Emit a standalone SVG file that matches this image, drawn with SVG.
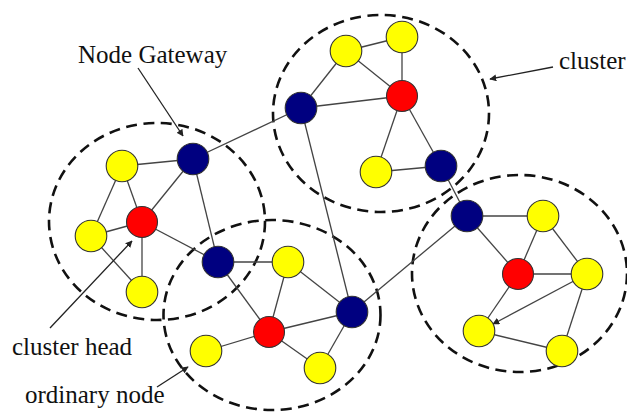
<svg xmlns="http://www.w3.org/2000/svg" width="627" height="417" viewBox="0 0 627 417">
  <style>
    .cluster { fill: none; stroke: #111; stroke-width: 2.6; stroke-dasharray: 11 6.5; }
    .edge { stroke: #444; stroke-width: 1.3; fill: none; }
    .pointer { stroke: #222; stroke-width: 1.3; fill: none; }
    .node { stroke: #333; stroke-width: 1.1; }
    .head { fill: #ff0000; }
    .gate { fill: #000080; }
    .ord { fill: #ffff00; }
    text { font-size: 25px; fill: #111; }
  </style>
  <defs>
    <marker id="arrow" viewBox="0 0 10 10" refX="9" refY="5" markerWidth="7" markerHeight="7" orient="auto" markerUnits="userSpaceOnUse">
      <path d="M0,0 L10,5 L0,10 z" fill="#222"/>
    </marker>
  </defs>
  <rect width="627" height="417" fill="#fff"/>

  <!-- cluster boundaries -->
  <g id="clusters">
    <ellipse class="cluster" cx="157" cy="221.5" rx="108" ry="98.5"/>
    <ellipse class="cluster" cx="381" cy="113.5" rx="108" ry="98.5"/>
    <ellipse class="cluster" cx="272" cy="315" rx="108.5" ry="95"/>
    <ellipse class="cluster" cx="519.5" cy="273.5" rx="107.5" ry="98.5"/>
  </g>

  <!-- links between nodes -->
  <g id="connectors">
    <line class="edge" x1="122" y1="166" x2="193" y2="159"/>
    <line class="edge" x1="122" y1="166" x2="142" y2="222"/>
    <line class="edge" x1="122" y1="166" x2="91" y2="236"/>
    <line class="edge" x1="193" y1="159" x2="142" y2="222"/>
    <line class="edge" x1="193" y1="159" x2="218" y2="262"/>
    <line class="edge" x1="193" y1="159" x2="301" y2="108"/>
    <line class="edge" x1="142" y1="222" x2="91" y2="236"/>
    <line class="edge" x1="142" y1="222" x2="142" y2="292"/>
    <line class="edge" x1="142" y1="222" x2="218" y2="262"/>
    <line class="edge" x1="91" y1="236" x2="142" y2="292"/>

    <line class="edge" x1="218" y1="262" x2="288" y2="262"/>
    <line class="edge" x1="218" y1="262" x2="269" y2="332"/>
    <line class="edge" x1="288" y1="262" x2="269" y2="332"/>
    <line class="edge" x1="288" y1="262" x2="352" y2="312"/>
    <line class="edge" x1="269" y1="332" x2="206" y2="351"/>
    <line class="edge" x1="269" y1="332" x2="352" y2="312"/>
    <line class="edge" x1="269" y1="332" x2="320" y2="368"/>
    <line class="edge" x1="352" y1="312" x2="320" y2="368"/>
    <line class="edge" x1="352" y1="312" x2="301" y2="108"/>
    <line class="edge" x1="352" y1="312" x2="467" y2="216"/>

    <line class="edge" x1="346" y1="51" x2="402" y2="37"/>
    <line class="edge" x1="346" y1="51" x2="301" y2="108"/>
    <line class="edge" x1="346" y1="51" x2="402" y2="96"/>
    <line class="edge" x1="402" y1="37" x2="402" y2="96"/>
    <line class="edge" x1="301" y1="108" x2="402" y2="96"/>
    <line class="edge" x1="402" y1="96" x2="376" y2="172"/>
    <line class="edge" x1="402" y1="96" x2="441" y2="166"/>
    <line class="edge" x1="376" y1="172" x2="441" y2="166"/>
    <line class="edge" x1="441" y1="166" x2="467" y2="216"/>

    <line class="edge" x1="467" y1="216" x2="543" y2="216"/>
    <line class="edge" x1="467" y1="216" x2="518" y2="274"/>
    <line class="edge" x1="543" y1="216" x2="518" y2="274"/>
    <line class="edge" x1="543" y1="216" x2="587" y2="274"/>
    <line class="edge" x1="518" y1="274" x2="587" y2="274"/>
    <line class="edge" x1="518" y1="274" x2="479" y2="331"/>
    <line class="edge" x1="587" y1="274" x2="493" y2="324" marker-end="url(#arrow)"/>
    <line class="edge" x1="587" y1="274" x2="562" y2="351"/>
    <line class="edge" x1="479" y1="331" x2="562" y2="351"/>
  </g>

  <!-- left cluster nodes -->
  <g id="n-left-ord-1"><circle class="node ord" cx="122" cy="166" r="15.8"/></g>
  <g id="n-left-gate"><circle class="node gate" cx="193" cy="159" r="15.8"/></g>
  <g id="n-left-head"><circle class="node head" cx="142" cy="222" r="15.5"/></g>
  <g id="n-left-ord-2"><circle class="node ord" cx="91" cy="236" r="15.8"/></g>
  <g id="n-left-ord-3"><circle class="node ord" cx="142" cy="292" r="15.8"/></g>

  <!-- bottom cluster nodes -->
  <g id="n-bottom-gate-1"><circle class="node gate" cx="218" cy="262" r="15.8"/></g>
  <g id="n-bottom-ord-1"><circle class="node ord" cx="288" cy="262" r="15.8"/></g>
  <g id="n-bottom-head"><circle class="node head" cx="269" cy="332" r="15.5"/></g>
  <g id="n-bottom-ord-2"><circle class="node ord" cx="206" cy="351" r="15.8"/></g>
  <g id="n-bottom-ord-3"><circle class="node ord" cx="320" cy="368" r="15.8"/></g>
  <g id="n-bottom-gate-2"><circle class="node gate" cx="352" cy="312" r="15.8"/></g>

  <!-- top cluster nodes -->
  <g id="n-top-ord-1"><circle class="node ord" cx="346" cy="51" r="15.8"/></g>
  <g id="n-top-ord-2"><circle class="node ord" cx="402" cy="37" r="15.8"/></g>
  <g id="n-top-head"><circle class="node head" cx="402" cy="96" r="15.5"/></g>
  <g id="n-top-gate-1"><circle class="node gate" cx="301" cy="108" r="15.8"/></g>
  <g id="n-top-ord-3"><circle class="node ord" cx="376" cy="172" r="15.8"/></g>
  <g id="n-top-gate-2"><circle class="node gate" cx="441" cy="166" r="15.8"/></g>

  <!-- right cluster nodes -->
  <g id="n-right-gate"><circle class="node gate" cx="467" cy="216" r="15.8"/></g>
  <g id="n-right-ord-1"><circle class="node ord" cx="543" cy="216" r="15.8"/></g>
  <g id="n-right-head"><circle class="node head" cx="518" cy="274" r="15.5"/></g>
  <g id="n-right-ord-2"><circle class="node ord" cx="587" cy="274" r="15.8"/></g>
  <g id="n-right-ord-3"><circle class="node ord" cx="479" cy="331" r="15.8"/></g>
  <g id="n-right-ord-4"><circle class="node ord" cx="562" cy="351" r="15.8"/></g>

  <!-- annotations -->
  <g id="labels" font-family="'Liberation Serif', 'DejaVu Serif', serif">
    <text x="78" y="63">Node Gateway</text>
    <line class="pointer" x1="138" y1="68" x2="183" y2="136" marker-end="url(#arrow)"/>
    <text x="559" y="69">cluster</text>
    <line class="pointer" x1="553" y1="67" x2="490" y2="79" marker-end="url(#arrow)"/>
    <text x="12" y="355">cluster head</text>
    <line class="pointer" x1="50" y1="328" x2="132" y2="241" marker-end="url(#arrow)"/>
    <text x="25" y="403">ordinary node</text>
    <line class="pointer" x1="157" y1="387" x2="188" y2="367" marker-end="url(#arrow)"/>
  </g>
</svg>
